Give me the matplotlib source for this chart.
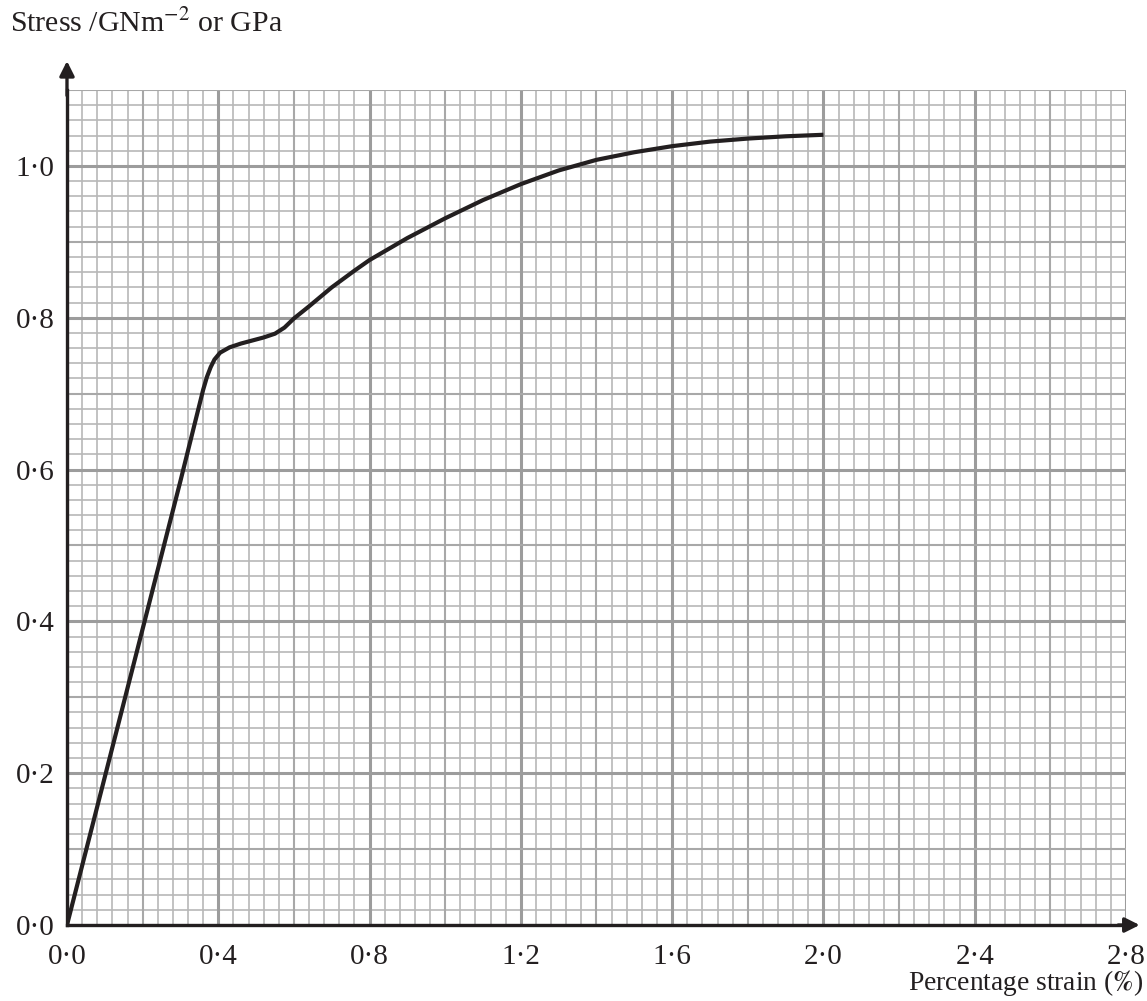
import matplotlib
matplotlib.use("Agg")
import matplotlib.pyplot as plt
import numpy as np

# curve: percentage strain vs stress (GPa)
strain = [0.0, 0.1, 0.2, 0.3, 0.345, 0.36, 0.37, 0.38, 0.39, 0.405, 0.43, 0.46,
          0.49, 0.52, 0.55, 0.575, 0.60, 0.64, 0.70, 0.76, 0.8, 0.9, 1.0, 1.1,
          1.2, 1.3, 1.4, 1.5, 1.6, 1.7, 1.8, 1.9, 2.0]
stress = [0.0, 0.195, 0.39, 0.585, 0.675, 0.705, 0.722, 0.735, 0.745, 0.754, 0.761, 0.766,
          0.770, 0.774, 0.779, 0.787, 0.799, 0.815, 0.840, 0.862, 0.876, 0.905, 0.931, 0.955,
          0.976, 0.994, 1.008, 1.018, 1.026, 1.032, 1.036, 1.039, 1.041]

xticks = [0.0, 0.4, 0.8, 1.2, 1.6, 2.0, 2.4, 2.8]
yticks = [0.0, 0.2, 0.4, 0.6, 0.8, 1.0]

plt.rcParams['font.family'] = ['Liberation Serif', 'DejaVu Serif']
plt.rcParams['mathtext.fontset'] = 'stix'

fig = plt.figure(figsize=(11.47, 10.01), dpi=100)
ax = fig.add_axes([0.0584, 0.0759, 0.9233, 0.8342])
ax.set_xlim(0, 2.8)
ax.set_ylim(0, 1.1)

# graph paper
for i, x in enumerate(np.arange(0, 2.8001, 0.04)):
    if i % 10 == 0:
        ax.axvline(x, color='#9c9c9c', lw=2.2, zorder=1)
    elif i % 5 == 0:
        ax.axvline(x, color='#a8a8a8', lw=1.5, zorder=1)
    else:
        ax.axvline(x, color='#b8b8b8', lw=1.2, zorder=0.5)
for i, y in enumerate(np.arange(0, 1.1001, 0.02)):
    if i % 10 == 0:
        ax.axhline(y, color='#9c9c9c', lw=2.2, zorder=1)
    elif i % 5 == 0:
        ax.axhline(y, color='#a8a8a8', lw=1.5, zorder=1)
    else:
        ax.axhline(y, color='#b8b8b8', lw=1.2, zorder=0.5)

ax.plot(strain, stress, color='#231f20', lw=3.0, solid_capstyle='butt',
        solid_joinstyle='round', zorder=3)

for s in ['top', 'right']:
    ax.spines[s].set_visible(False)
for s in ['left', 'bottom']:
    ax.spines[s].set_linewidth(2.4)
    ax.spines[s].set_color('#231f20')
    ax.spines[s].set_zorder(4)

ax.set_xticks(xticks)
ax.set_xticklabels([f'{v:.1f}'.replace('.', '\u00b7') for v in xticks])
ax.set_yticks(yticks)
ax.set_yticklabels([f'{v:.1f}'.replace('.', '\u00b7') for v in yticks])
ax.tick_params(length=0, labelsize=21, colors='#231f20')
ax.tick_params(axis='x', pad=14)
ax.tick_params(axis='y', pad=9)

# arrows on the axes
ax.annotate('', xy=(1.0155, 0), xytext=(0.99, 0), xycoords='axes fraction',
            arrowprops=dict(arrowstyle='-|>', color='#231f20', lw=2.4,
                            mutation_scale=22), annotation_clip=False)
ax.annotate('', xy=(0, 1.038), xytext=(0, 0.99), xycoords='axes fraction',
            arrowprops=dict(arrowstyle='-|>', color='#231f20', lw=2.4,
                            mutation_scale=22), annotation_clip=False)

fig.text(10 / 1147, 1 - 24 / 1001, 'Stress /GNm$^{\u22122}$ or GPa', fontsize=21.5,
         ha='left', va='center', color='#231f20')
fig.text(1143 / 1147, 1 - 983 / 1001, 'Percentage strain ($\\mathbf{\\%}$)', fontsize=19.8,
         ha='right', va='center', color='#231f20')

fig.savefig('out.png', dpi=100)
